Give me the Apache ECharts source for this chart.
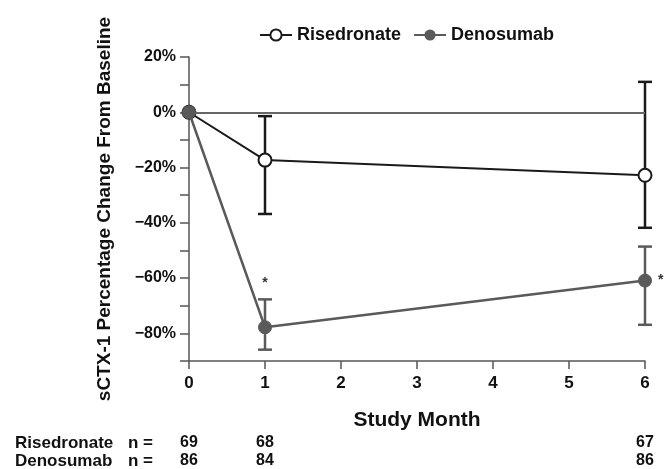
<!DOCTYPE html>
<html>
<head>
<meta charset="utf-8">
<script src="https://cdn.jsdelivr.net/npm/echarts@6/dist/echarts.min.js"></script>
<style>
  html, body { margin: 0; padding: 0; background: #fff; }
  #chart { width: 665px; height: 469px; }
</style>
</head>
<body>
<div id="chart"></div>
<script>
// data
const months = [0, 1, 6]
const risMean = [0, -17.3, -22.8]
const risLow = [0, -36.8, -41.8]
const risHigh = [0, -1.4, 11]
const denoMean = [0, -77.8, -60.9]
const denoLow = [0, -85.9, -76.9]
const denoHigh = [0, -67.7, -48.6]
const denoStars = ['', '*', '*']
const risN = [69, 68, 67]
const denoN = [86, 84, 86]
const yTicks = [20, 0, -20, -40, -60, -80]

const FONT = 'Liberation Sans, Arial, sans-serif'
const RIS_COLOR = '#1a1a1a'
const DENO_COLOR = '#5a5a5a'
const AXIS_COLOR = '#555'

const chart = echarts.init(document.getElementById('chart'))

// vertical error bar with caps
const errorBar = (color) => (params, api) => {
  const x = api.value(0)
  const top = api.coord([x, api.value(2)])
  const bot = api.coord([x, api.value(1)])
  if (top[1] === bot[1]) return null
  const w = 7
  const style = { stroke: color, lineWidth: 2.5 }
  return {
    type: 'group',
    children: [
      { type: 'line', shape: { x1: top[0], y1: top[1], x2: bot[0], y2: bot[1] }, style },
      { type: 'line', shape: { x1: top[0] - w, y1: top[1], x2: top[0] + w, y2: top[1] }, style },
      { type: 'line', shape: { x1: bot[0] - w, y1: bot[1], x2: bot[0] + w, y2: bot[1] }, style }
    ]
  }
}

const nAxis = (values, offset) => ({
  type: 'value',
  position: 'bottom',
  min: 0,
  max: 6,
  interval: 1,
  offset,
  axisLine: { show: false },
  axisTick: { show: false },
  splitLine: { show: false },
  axisLabel: {
    margin: 4,
    color: '#111',
    fontFamily: FONT,
    fontWeight: 'bold',
    fontSize: 16,
    formatter: (v) => {
      const i = months.indexOf(v)
      return i >= 0 ? String(values[i]) : ''
    }
  }
})

const option = {
  animation: false,
  backgroundColor: '#fff',
  textStyle: { fontFamily: FONT },
  grid: { left: 189, right: 20, top: 57, bottom: 106 },
  legend: {
    left: 254,
    top: 21,
    itemWidth: 32,
    itemHeight: 14,
    itemGap: 12,
    textStyle: { fontFamily: FONT, fontWeight: 'bold', fontSize: 18, color: '#111' },
    data: ['Risedronate', 'Denosumab']
  },
  xAxis: [
    {
      type: 'value',
      min: 0,
      max: 6,
      interval: 1,
      name: 'Study Month',
      nameLocation: 'middle',
      nameGap: 49,
      nameTextStyle: { fontFamily: FONT, fontWeight: 'bold', fontSize: 21, color: '#111' },
      axisLine: { onZero: false, lineStyle: { color: AXIS_COLOR, width: 1.5 } },
      axisTick: { length: 8, lineStyle: { color: AXIS_COLOR, width: 1.5 } },
      splitLine: { show: false },
      axisLabel: { margin: 14, color: '#111', fontFamily: FONT, fontWeight: 'bold', fontSize: 17 }
    },
    nAxis(risN, 70),
    nAxis(denoN, 88)
  ],
  yAxis: {
    type: 'value',
    min: -90,
    max: 20,
    interval: 10,
    name: 'sCTX-1 Percentage Change From Baseline',
    nameLocation: 'middle',
    nameRotate: 90,
    nameGap: 75,
    nameTextStyle: { fontFamily: FONT, fontWeight: 'bold', fontSize: 19, color: '#111' },
    axisLine: { show: true, lineStyle: { color: AXIS_COLOR, width: 1.5 } },
    axisTick: { show: true, length: 9, lineStyle: { color: AXIS_COLOR, width: 1.5 } },
    splitLine: { show: false },
    axisLabel: {
      margin: 13,
      color: '#111',
      fontFamily: FONT,
      fontWeight: 'bold',
      fontSize: 16,
      formatter: (v) => {
        if (!yTicks.includes(v)) return ''
        return (v < 0 ? '\u2212' + (-v) : v) + '%'
      }
    }
  },
  series: [
    {
      name: 'Risedronate',
      type: 'line',
      data: months.map((m, i) => [m, risMean[i]]),
      symbol: 'circle',
      symbolSize: 13,
      lineStyle: { color: RIS_COLOR, width: 2 },
      itemStyle: { color: '#fff', borderColor: RIS_COLOR, borderWidth: 2 },
      z: 3,
      markLine: {
        silent: true,
        symbol: 'none',
        label: { show: false },
        lineStyle: { color: '#666', width: 2, type: 'solid' },
        data: [{ yAxis: 0 }]
      }
    },
    {
      name: 'Risedronate err',
      type: 'custom',
      renderItem: errorBar(RIS_COLOR),
      encode: { x: 0, y: [1, 2] },
      data: months.map((m, i) => [m, risLow[i], risHigh[i]]),
      z: 2
    },
    {
      name: 'Denosumab err',
      type: 'custom',
      renderItem: errorBar(DENO_COLOR),
      encode: { x: 0, y: [1, 2] },
      data: months.map((m, i) => [m, denoLow[i], denoHigh[i]]),
      z: 4
    },
    {
      name: 'Denosumab',
      type: 'line',
      data: months.map((m, i) => ({
        value: [m, denoMean[i]],
        label: {
          show: denoStars[i] !== '',
          formatter: denoStars[i],
          position: i === months.length - 1 ? 'right' : 'top',
          distance: i === months.length - 1 ? 6 : 30,
          color: '#333',
          fontSize: 14,
          fontWeight: 'bold'
        }
      })),
      symbol: 'circle',
      symbolSize: 13,
      lineStyle: { color: DENO_COLOR, width: 2.5 },
      itemStyle: { color: DENO_COLOR, borderColor: DENO_COLOR },
      z: 5
    }
  ],
  graphic: [
    {
      type: 'text',
      left: 15,
      top: 435,
      style: { text: 'Risedronate', fontFamily: FONT, fontWeight: 'bold', fontSize: 17, fill: '#111' }
    },
    {
      type: 'text',
      left: 128,
      top: 435,
      style: { text: 'n =', fontFamily: FONT, fontWeight: 'bold', fontSize: 17, fill: '#111' }
    },
    {
      type: 'text',
      left: 15,
      top: 453,
      style: { text: 'Denosumab', fontFamily: FONT, fontWeight: 'bold', fontSize: 17, fill: '#111' }
    },
    {
      type: 'text',
      left: 128,
      top: 453,
      style: { text: 'n =', fontFamily: FONT, fontWeight: 'bold', fontSize: 17, fill: '#111' }
    }
  ]
}

chart.setOption(option)
</script>
</body>
</html>
